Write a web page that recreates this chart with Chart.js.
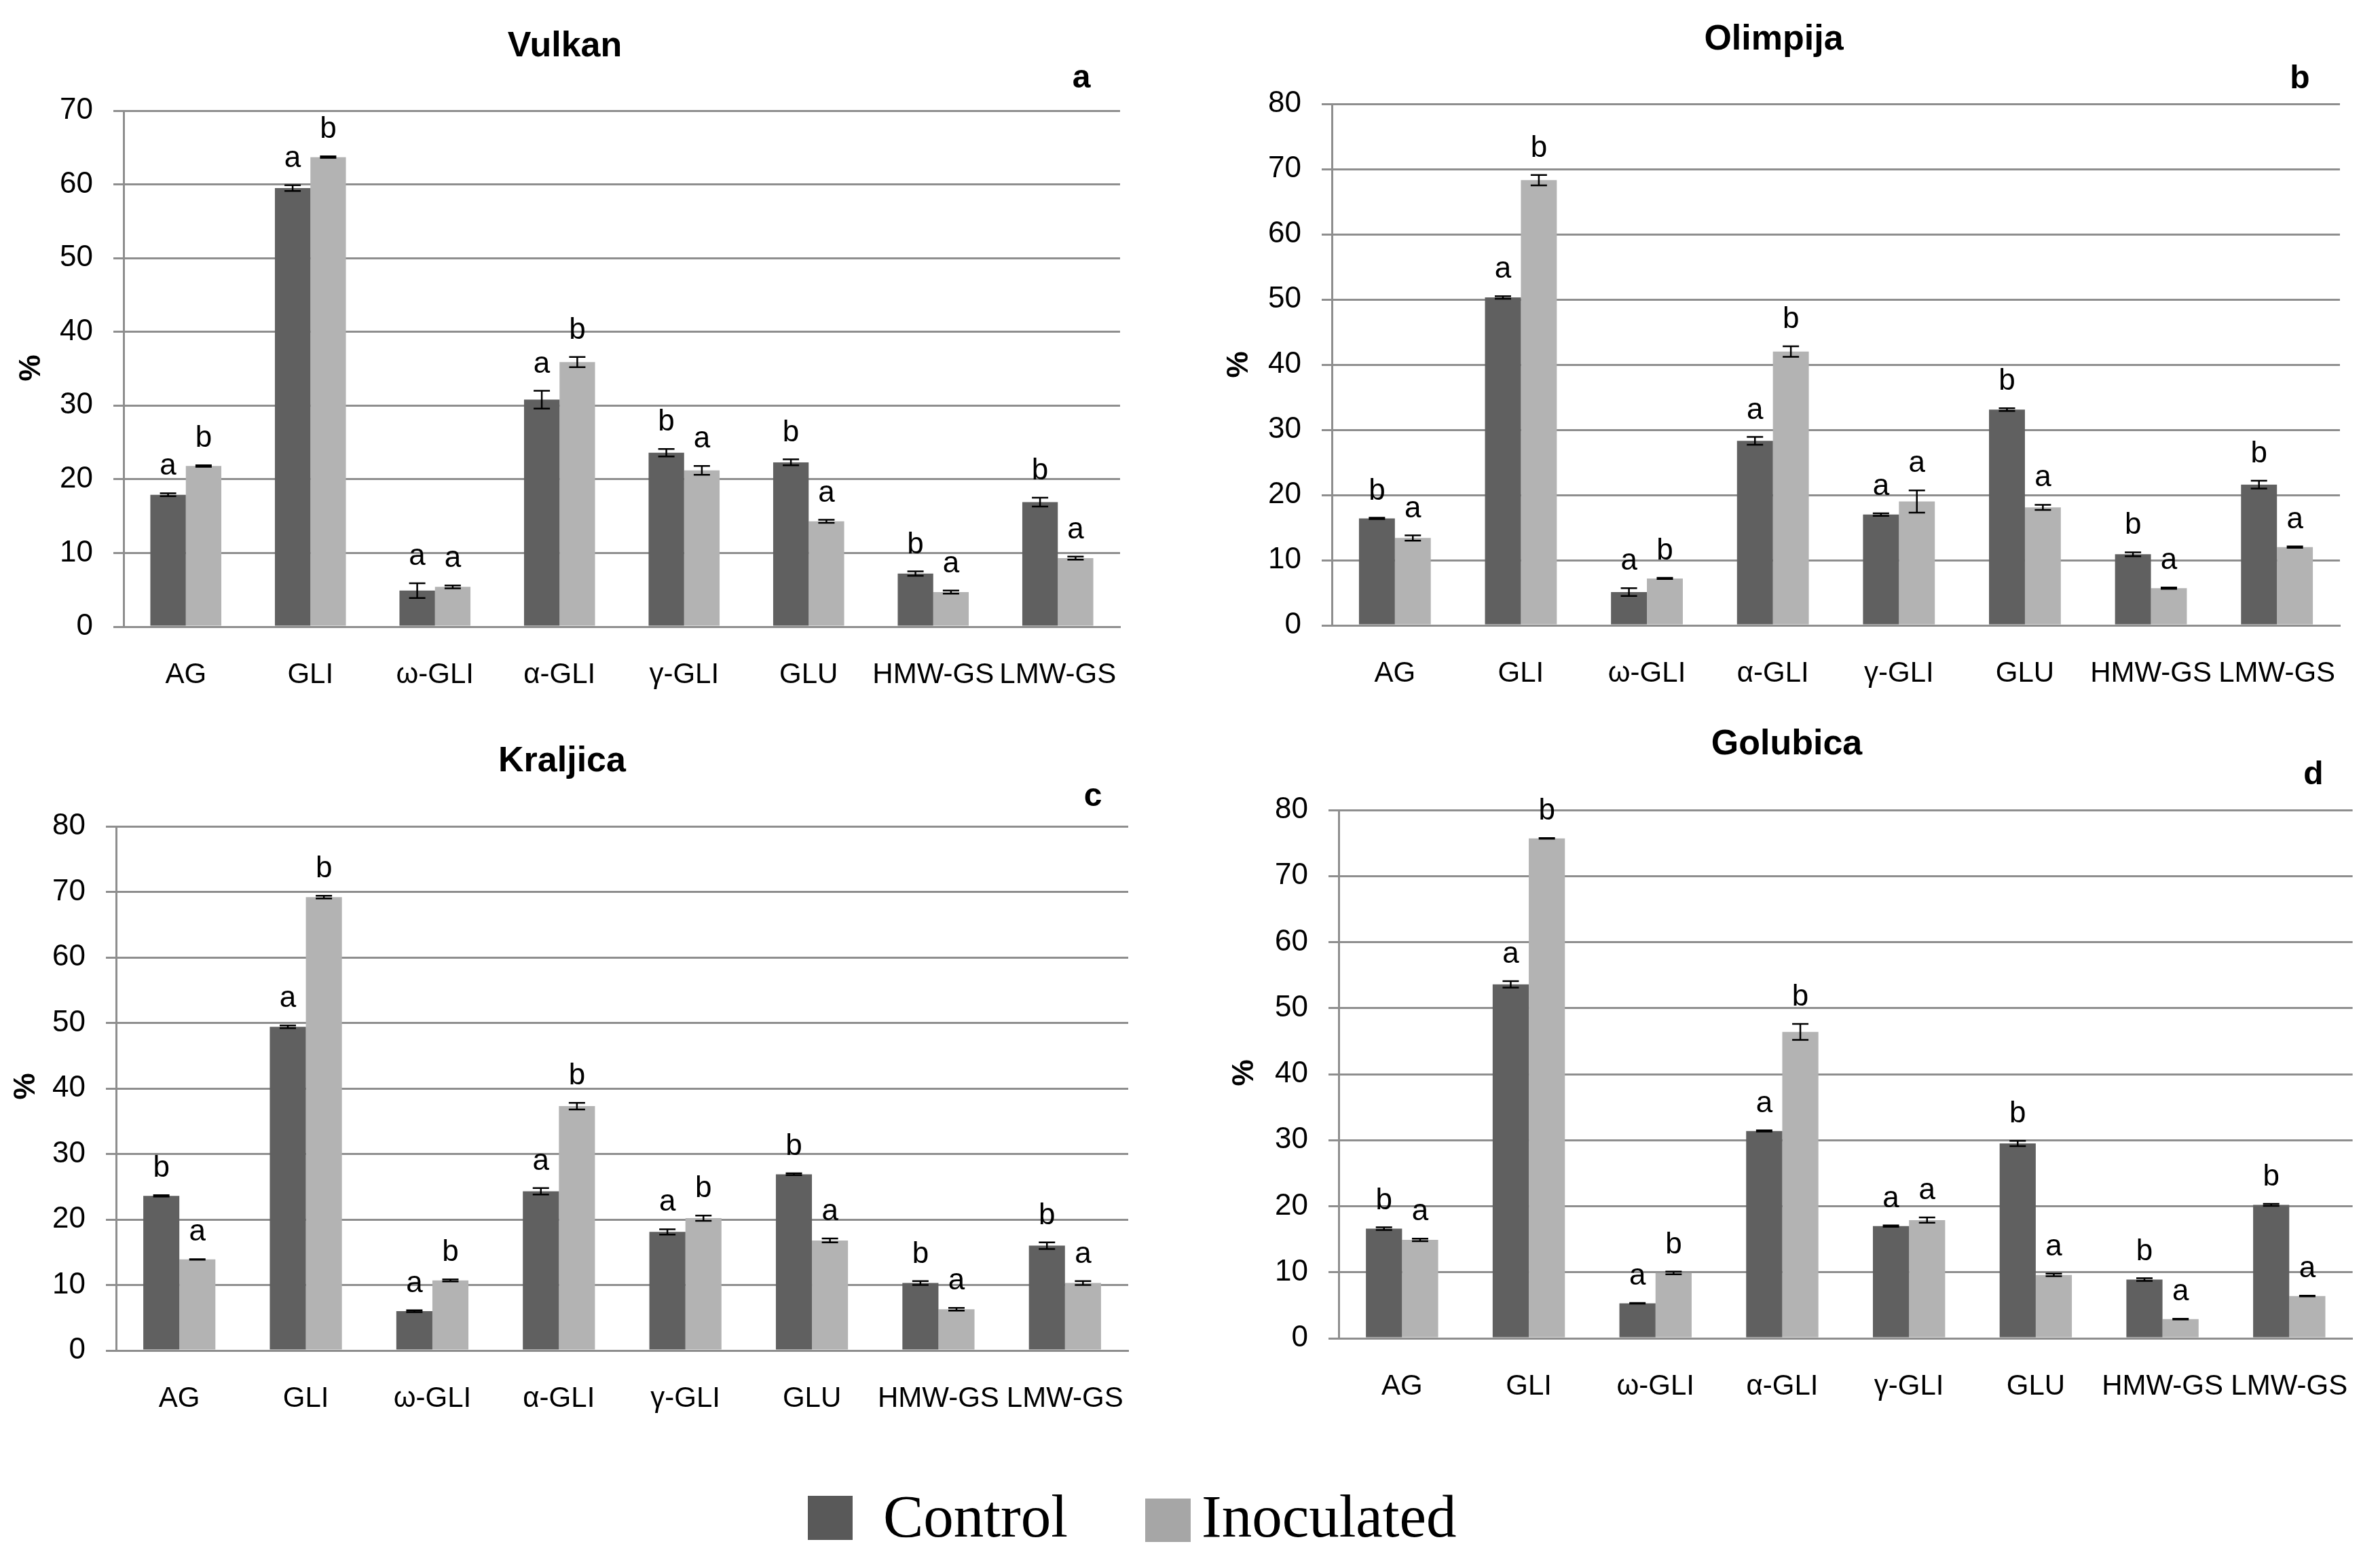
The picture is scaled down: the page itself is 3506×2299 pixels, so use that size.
<!DOCTYPE html>
<html>
<head>
<meta charset="utf-8">
<title>Protein fractions</title>
<script src="https://cdn.jsdelivr.net/npm/chart.js@4.4.0/dist/chart.umd.min.js"></script>
<style>
    html, body { margin: 0; padding: 0; background: #fff; }
    #page { position: relative; width: 3506px; height: 2299px; overflow: hidden; background: #fff; }
    #page canvas { position: absolute; }
    .sq { position: absolute; }
    .lg { position: absolute; font-family: 'Liberation Serif', 'DejaVu Serif', serif; font-size: 89px; line-height: 89px; color: #000; white-space: nowrap; }
</style>
</head>
<body>
<div id="page">
    <canvas id="chartA" width="1753" height="1050" style="left:0px;top:0px"></canvas>
    <canvas id="chartB" width="1753" height="1050" style="left:1753px;top:0px"></canvas>
    <canvas id="chartC" width="1753" height="1100" style="left:0px;top:1050px"></canvas>
    <canvas id="chartD" width="1753" height="1100" style="left:1753px;top:1050px"></canvas>

    <div class="sq" style="left:1190px;top:2203px;width:66px;height:65px;background:#595959"></div>
    <div class="lg" style="left:1301px;top:2189px">Control</div>
    <div class="sq" style="left:1687px;top:2207px;width:67px;height:64px;background:#a6a6a6"></div>
    <div class="lg" style="left:1770px;top:2189px">Inoculated</div>
</div>

<script>
const categories = ['AG', 'GLI', 'ω-GLI', 'α-GLI', 'γ-GLI', 'GLU', 'HMW-GS', 'LMW-GS']

// Vulkan
const vulkanControl = [17.9, 59.5, 4.9, 30.8, 23.6, 22.3, 7.2, 16.9]
const vulkanInoculated = [21.8, 63.7, 5.4, 35.9, 21.2, 14.3, 4.7, 9.3]
const vulkanControlErr = [0.2, 0.4, 1.0, 1.2, 0.5, 0.4, 0.3, 0.6]
const vulkanInoculatedErr = [0.1, 0.1, 0.2, 0.7, 0.6, 0.2, 0.2, 0.2]
const vulkanControlSig = ['a', 'a', 'a', 'a', 'b', 'b', 'b', 'b']
const vulkanInoculatedSig = ['b', 'b', 'a', 'b', 'a', 'a', 'a', 'a']

// Olimpija
const olimpijaControl = [16.4, 50.3, 5.1, 28.3, 17.0, 33.1, 10.9, 21.6]
const olimpijaInoculated = [13.4, 68.3, 7.2, 42.0, 19.0, 18.1, 5.7, 12.0]
const olimpijaControlErr = [0.1, 0.2, 0.6, 0.6, 0.2, 0.2, 0.3, 0.6]
const olimpijaInoculatedErr = [0.4, 0.8, 0.1, 0.8, 1.7, 0.4, 0.1, 0.1]
const olimpijaControlSig = ['b', 'a', 'a', 'a', 'a', 'b', 'b', 'b']
const olimpijaInoculatedSig = ['a', 'b', 'b', 'b', 'a', 'a', 'a', 'a']

// Kraljica
const kraljicaControl = [23.6, 49.4, 6.0, 24.3, 18.1, 26.9, 10.3, 16.0]
const kraljicaInoculated = [13.9, 69.2, 10.7, 37.3, 20.2, 16.8, 6.3, 10.3]
const kraljicaControlErr = [0.1, 0.2, 0.15, 0.5, 0.4, 0.15, 0.3, 0.5]
const kraljicaInoculatedErr = [0.05, 0.2, 0.15, 0.5, 0.4, 0.3, 0.2, 0.3]
const kraljicaControlSig = ['b', 'a', 'a', 'a', 'a', 'b', 'b', 'b']
const kraljicaInoculatedSig = ['a', 'b', 'b', 'b', 'b', 'a', 'a', 'a']

// Golubica
const golubicaControl = [16.6, 53.6, 5.3, 31.4, 17.0, 29.5, 8.9, 20.2]
const golubicaInoculated = [14.9, 75.7, 9.9, 46.4, 17.9, 9.6, 2.9, 6.4]
const golubicaControlErr = [0.2, 0.5, 0.05, 0.1, 0.1, 0.4, 0.2, 0.15]
const golubicaInoculatedErr = [0.2, 0.05, 0.2, 1.2, 0.4, 0.2, 0.05, 0.05]
const golubicaControlSig = ['b', 'a', 'a', 'a', 'a', 'b', 'b', 'b']
const golubicaInoculatedSig = ['a', 'b', 'b', 'b', 'a', 'a', 'a', 'a']

const narrow = "'Liberation Sans Narrow', 'Liberation Sans', Arial, sans-serif"
const gridColor = '#8e8e8e'
const xAxisH = 100

// page coordinates of each panel
const panels = [
    {
        id: 'chartA', title: 'Vulkan', tag: 'a', yMax: 70,
        control: vulkanControl, inoculated: vulkanInoculated,
        controlErr: vulkanControlErr, inoculatedErr: vulkanInoculatedErr,
        controlSig: vulkanControlSig, inoculatedSig: vulkanInoculatedSig,
        box: { x: 0, y: 0, w: 1753, h: 1050 },
        area: { left: 182, right: 1650, top: 163, bottom: 923 },
        titlePos: [832, 69], tagPos: [1593, 116], pctPos: [47, 542]
    },
    {
        id: 'chartB', title: 'Olimpija', tag: 'b', yMax: 80,
        control: olimpijaControl, inoculated: olimpijaInoculated,
        controlErr: olimpijaControlErr, inoculatedErr: olimpijaInoculatedErr,
        controlSig: olimpijaControlSig, inoculatedSig: olimpijaInoculatedSig,
        box: { x: 1753, y: 0, w: 1753, h: 1050 },
        area: { left: 1962, right: 3447, top: 153, bottom: 921 },
        titlePos: [2613, 59], tagPos: [3388, 117], pctPos: [1826, 537]
    },
    {
        id: 'chartC', title: 'Kraljica', tag: 'c', yMax: 80,
        control: kraljicaControl, inoculated: kraljicaInoculated,
        controlErr: kraljicaControlErr, inoculatedErr: kraljicaInoculatedErr,
        controlSig: kraljicaControlSig, inoculatedSig: kraljicaInoculatedSig,
        box: { x: 0, y: 1050, w: 1753, h: 1100 },
        area: { left: 171, right: 1662, top: 1217, bottom: 1989 },
        titlePos: [828, 1122], tagPos: [1610, 1174], pctPos: [39, 1600]
    },
    {
        id: 'chartD', title: 'Golubica', tag: 'd', yMax: 80,
        control: golubicaControl, inoculated: golubicaInoculated,
        controlErr: golubicaControlErr, inoculatedErr: golubicaInoculatedErr,
        controlSig: golubicaControlSig, inoculatedSig: golubicaInoculatedSig,
        box: { x: 1753, y: 1050, w: 1753, h: 1100 },
        area: { left: 1972, right: 3478, top: 1193, bottom: 1971 },
        titlePos: [2632, 1097], tagPos: [3408, 1142], pctPos: [1834, 1580]
    }
]

// error bars, significance letters, title, panel tag and "%"
const annotate = {
    id: 'annotate',
    afterDatasetsDraw(chart, args, opts) {
        const p = opts.panel
        const ctx = chart.ctx
        const yScale = chart.scales.y
        const errs = [p.controlErr, p.inoculatedErr]
        const sigs = [p.controlSig, p.inoculatedSig]
        ctx.save()
        chart.data.datasets.forEach((ds, di) => {
            const meta = chart.getDatasetMeta(di)
            meta.data.forEach((bar, i) => {
                const v = ds.data[i]
                const e = errs[di][i]
                const yT = yScale.getPixelForValue(v + e)
                const yB = yScale.getPixelForValue(v - e)
                const x = bar.x
                ctx.strokeStyle = '#000'
                ctx.lineWidth = 2.5
                ctx.beginPath()
                ctx.moveTo(x, yT); ctx.lineTo(x, yB)
                ctx.moveTo(x - 12, yT); ctx.lineTo(x + 12, yT)
                ctx.moveTo(x - 12, yB); ctx.lineTo(x + 12, yB)
                ctx.stroke()

                ctx.fillStyle = '#000'
                ctx.font = '44px ' + narrow
                ctx.textAlign = 'center'
                ctx.textBaseline = 'alphabetic'
                ctx.fillText(sigs[di][i], x, yT - 27)
            })
        })

        const ox = p.box.x, oy = p.box.y
        ctx.fillStyle = '#000'
        ctx.textAlign = 'center'
        ctx.textBaseline = 'middle'
        ctx.font = 'bold 52px ' + narrow
        ctx.fillText(p.title, p.titlePos[0] - ox, p.titlePos[1] - oy)
        ctx.font = 'bold 48px ' + narrow
        ctx.fillText(p.tag, p.tagPos[0] - ox, p.tagPos[1] - oy)

        ctx.translate(p.pctPos[0] - ox, p.pctPos[1] - oy)
        ctx.rotate(-Math.PI / 2)
        ctx.font = 'bold 44px ' + narrow
        ctx.fillText('%', 0, 0)
        ctx.restore()
    }
}

panels.forEach(p => {
    const ctx = document.getElementById(p.id).getContext('2d')
    new Chart(ctx, {
        type: 'bar',
        data: {
            labels: categories,
            datasets: [
                { label: 'Control', data: p.control, backgroundColor: '#606060', borderWidth: 0 },
                { label: 'Inoculated', data: p.inoculated, backgroundColor: '#b3b3b3', borderWidth: 0 }
            ]
        },
        options: {
            responsive: false,
            animation: false,
            devicePixelRatio: 1,
            categoryPercentage: 0.57,
            barPercentage: 1.0,
            layout: {
                padding: {
                    left: 0,
                    top: p.area.top - p.box.y,
                    right: p.box.x + p.box.w - p.area.right,
                    bottom: p.box.y + p.box.h - p.area.bottom - xAxisH
                }
            },
            plugins: {
                legend: { display: false },
                tooltip: { enabled: false },
                title: { display: false },
                annotate: { panel: p }
            },
            scales: {
                x: {
                    grid: { display: false, drawTicks: false },
                    border: { display: true, color: gridColor, width: 3 },
                    ticks: {
                        color: '#000',
                        font: { family: narrow, size: 42 },
                        padding: 46,
                        maxRotation: 0,
                        minRotation: 0,
                        autoSkip: false
                    },
                    afterFit(scale) { scale.height = xAxisH }
                },
                y: {
                    min: 0,
                    max: p.yMax,
                    grid: { color: gridColor, lineWidth: 3, drawTicks: true, tickLength: 15 },
                    border: { display: true, color: gridColor, width: 3 },
                    ticks: {
                        stepSize: 10,
                        color: '#000',
                        font: { family: narrow, size: 44 },
                        padding: 30
                    },
                    afterFit(scale) { scale.width = p.area.left - p.box.x }
                }
            }
        },
        plugins: [annotate]
    })
})
</script>
</body>
</html>
